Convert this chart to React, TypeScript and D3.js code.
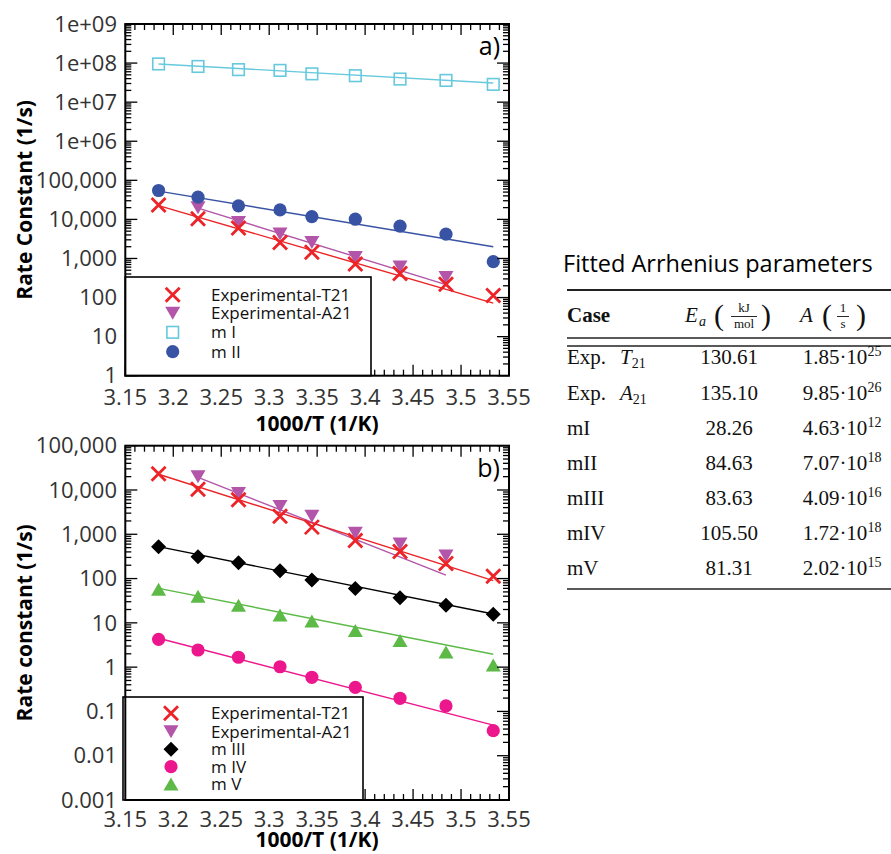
import React from 'react';
import * as d3 from 'd3';

// ---------- data ----------
const invT = [3.1847, 3.2258, 3.268, 3.3113, 3.3445, 3.3898, 3.4364, 3.4843, 3.5336];
const invTA21 = [3.2258, 3.268, 3.3113, 3.3445, 3.3898, 3.4364, 3.4843];

const kExpT21 = [23300, 10400, 6000, 2550, 1450, 720, 410, 218, 113];
const kExpA21 = [20000, 8300, 4250, 2550, 1060, 605, 325];
const kMI = [9.5e7, 8.2e7, 6.8e7, 6.5e7, 5.3e7, 4.75e7, 3.9e7, 3.6e7, 2.85e7];
const kMII = [54800, 37100, 22200, 17500, 11800, 10100, 6700, 4180, 830];
const kMIII = [525, 312, 228, 151, 93, 60, 37, 25, 15.6];
const kMIV = [4.25, 2.44, 1.67, 1.02, 0.59, 0.35, 0.198, 0.133, 0.0367];
const kMV = [57, 40, 25, 15, 11, 6.7, 4.0, 2.2, 1.12];

// fitted lines (end points)
const fitXFull = [3.1847, 3.5336];
const fitXA21 = [3.2258, 3.4843];
const fitA_T21 = [22600, 72];
const fitA_A21 = [19400, 215];
const fitA_MI = [9.5e7, 3.1e7];
const fitA_MII = [53000, 2000];
const fitB_T21 = [22700, 90];
const fitB_A21 = [19300, 120];
const fitB_MIII = [525, 15.8];
const fitB_MIV = [4.5, 0.049];
const fitB_MV = [60, 1.95];

const xTickValues = [3.15, 3.2, 3.25, 3.3, 3.35, 3.4, 3.45, 3.5, 3.55];
const xTickLabels = ['3.15', '3.2', '3.25', '3.3', '3.35', '3.4', '3.45', '3.5', '3.55'];
const yTicksA = [1, 10, 100, 1e3, 1e4, 1e5, 1e6, 1e7, 1e8, 1e9];
const yLabelsA = ['1', '10', '100', '1,000', '10,000', '100,000', '1e+06', '1e+07', '1e+08', '1e+09'];
const yTicksB = [1e-3, 1e-2, 0.1, 1, 10, 100, 1e3, 1e4, 1e5];
const yLabelsB = ['0.001', '0.01', '0.1', '1', '10', '100', '1,000', '10,000', '100,000'];

const legendA = ['Experimental-T21', 'Experimental-A21', 'm I', 'm II'];
const legendB = ['Experimental-T21', 'Experimental-A21', 'm III', 'm IV', 'm V'];

const tableCases = ['Exp.', 'Exp.', 'mI', 'mII', 'mIII', 'mIV', 'mV'];
const tableCaseVar = ['T', 'A', '', '', '', '', ''];
const tableEa = ['130.61', '135.10', '28.26', '84.63', '83.63', '105.50', '81.31'];
const tableAMant = ['1.85', '9.85', '4.63', '7.07', '4.09', '1.72', '2.02'];
const tableAExp = ['25', '26', '12', '18', '16', '18', '15'];

// ---------- styles ----------
const C = {
  red: '#ec2327',
  purple: '#b355a8',
  cyan: '#67c9dd',
  blue: '#3953a4',
  black: '#000000',
  pink: '#ec178c',
  green: '#5dba47',
};
const SANS = '"Open Sans", "Noto Sans", sans-serif';
const SERIF = '"Liberation Serif", "DejaVu Serif", serif';

type MType = 'x' | 'tdown' | 'square' | 'circle' | 'diamond' | 'tup';

function Marker({ t, x, y, c }: { t: MType; x: number; y: number; c: string }) {
  switch (t) {
    case 'x': {
      const s = 7;
      return (
        <path d={`M${x - s},${y - s}L${x + s},${y + s}M${x - s},${y + s}L${x + s},${y - s}`} stroke={c} strokeWidth={2.8} fill="none" />
      );
    }
    case 'tdown':
      return <path d={`M${x - 7.5},${y - 6.5}L${x + 7.5},${y - 6.5}L${x},${y + 6.5}Z`} fill={c} />;
    case 'tup':
      return <path d={`M${x - 7.5},${y + 6.5}L${x + 7.5},${y + 6.5}L${x},${y - 6.5}Z`} fill={c} />;
    case 'square':
      return <rect x={x - 5.8} y={y - 5.8} width={11.6} height={11.6} fill="none" stroke={c} strokeWidth={1.6} />;
    case 'circle':
      return <circle cx={x} cy={y} r={6.6} fill={c} />;
    case 'diamond':
      return <path d={`M${x},${y - 7.5}L${x + 7.5},${y}L${x},${y + 7.5}L${x - 7.5},${y}Z`} fill={c} />;
  }
  return null;
}

type Series = { xs: number[]; ys: number[]; t: MType; c: string; fitX: number[]; fitY: number[] };

function Panel(props: {
  top: number; bottom: number; domain: [number, number];
  yTicks: number[]; yLabels: string[]; yTitle: string; tag: string;
  series: Series[]; legendNames: string[]; legendOrder: number[];
  legendBox: [number, number, number, number]; legendRowY: number[]; legendMarkerX: number;
  xTitleY: number; xLabelY: number;
}) {
  const left = 125.3, right = 509;
  const x = d3.scaleLinear().domain([3.15, 3.55]).range([left, right]);
  const y = d3.scaleLog().domain(props.domain).range([props.bottom, props.top]);
  const line = d3.line<[number, number]>().x(d => x(d[0])).y(d => y(d[1]));
  const majX = 11, minX = 6, majY = 12, minY = 6;
  const xMinor = d3.range(315, 356).map(i => i / 100);
  const lo = Math.round(Math.log10(props.domain[0]));
  const hi = Math.round(Math.log10(props.domain[1]));
  const yMinor: number[] = [];
  for (let e = lo; e < hi; e++) for (let k = 2; k <= 9; k++) yMinor.push(k * Math.pow(10, e));
  const [lx0, ly0, lx1, ly1] = props.legendBox;
  const midY = (props.top + props.bottom) / 2;
  return (
    <g>
      {/* fits */}
      {props.series.map((s, i) => (
        <path key={'f' + i} d={line(s.fitX.map((v, j) => [v, s.fitY[j]] as [number, number])) || ''} stroke={s.c} strokeWidth={1.4} fill="none" />
      ))}
      {/* markers */}
      {props.series.map((s, i) => (
        <g key={'m' + i}>
          {s.xs.map((v, j) => <Marker key={j} t={s.t} x={x(v)} y={y(s.ys[j])} c={s.c} />)}
        </g>
      ))}
      {/* ticks */}
      <g stroke="#000" strokeWidth={1.3}>
        {xMinor.map((v, i) => {
          const major = Math.abs(v * 20 - Math.round(v * 20)) < 1e-6;
          const L = major ? majX : minX;
          return (
            <g key={'xt' + i}>
              <line x1={x(v)} x2={x(v)} y1={props.bottom} y2={props.bottom - L} />
              <line x1={x(v)} x2={x(v)} y1={props.top} y2={props.top + L} />
            </g>
          );
        })}
        {props.yTicks.map((v, i) => (
          <g key={'yt' + i}>
            <line x1={left} x2={left + majY} y1={y(v)} y2={y(v)} />
            <line x1={right} x2={right - majY} y1={y(v)} y2={y(v)} />
          </g>
        ))}
        {yMinor.map((v, i) => (
          <g key={'ym' + i}>
            <line x1={left} x2={left + minY} y1={y(v)} y2={y(v)} />
            <line x1={right} x2={right - minY} y1={y(v)} y2={y(v)} />
          </g>
        ))}
      </g>
      {/* legend */}
      <rect x={lx0} y={ly0} width={lx1 - lx0} height={ly1 - ly0} fill="#fff" stroke="#000" strokeWidth={1.6} />
      {props.legendOrder.map((si, i) => (
        <g key={'lg' + i}>
          <Marker t={props.series[si].t} x={props.legendMarkerX} y={props.legendRowY[i]} c={props.series[si].c} />
          <text x={211} y={props.legendRowY[i]} dy="0.35em" fontFamily={SANS} fontSize={17} fill="#111">{props.legendNames[i]}</text>
        </g>
      ))}
      {/* frame */}
      <rect x={left} y={props.top} width={right - left} height={props.bottom - props.top} fill="none" stroke="#000" strokeWidth={2} />
      {/* tick labels */}
      {xTickValues.map((v, i) => (
        <text key={'xl' + i} x={x(v)} y={props.xLabelY} dy="0.35em" textAnchor="middle" fontFamily={SANS} fontSize={22} fill="#333">{xTickLabels[i]}</text>
      ))}
      {props.yTicks.map((v, i) => (
        <text key={'yl' + i} x={117} y={y(v)} dy="0.35em" textAnchor="end" fontFamily={SANS} fontSize={22} fill="#333">{props.yLabels[i]}</text>
      ))}
      <text x={317} y={props.xTitleY} dy="0.35em" textAnchor="middle" fontFamily={SANS} fontSize={21} fontWeight="bold" fill="#000">1000/T (1/K)</text>
      <text transform={`translate(25,${midY}) rotate(-90)`} dy="0.35em" textAnchor="middle" fontFamily={SANS} fontSize={21} fontWeight="bold" fill="#000">{props.yTitle}</text>
      <text x={500} y={props.top + 31} textAnchor="end" fontFamily={SANS} fontSize={25} fill="#000">{props.tag}</text>
    </g>
  );
}

function Table() {
  const rowBase = [364, 400, 435, 470, 505, 540, 575];
  const fs = 21;
  return (
    <g fontFamily={SERIF} fill="#111">
      <text x={563} y={272} fontFamily={SANS} fontSize={23.5} fill="#000">Fitted Arrhenius parameters</text>
      <line x1={567} x2={891} y1={290} y2={290} stroke="#222" strokeWidth={1.8} />
      {/* header */}
      <text x={567} y={322} fontSize={fs} fontWeight="bold">Case</text>
      <text x={685} y={322} fontSize={fs} fontStyle="italic">E</text>
      <text x={699} y={326} fontSize={14} fontStyle="italic">a</text>
      <text x={714} y={325} fontSize={30}>(</text>
      <text x={744} y={312} fontSize={13} textAnchor="middle">kJ</text>
      <line x1={731} x2={757} y1={316.5} y2={316.5} stroke="#111" strokeWidth={0.9} />
      <text x={744} y={328} fontSize={13} textAnchor="middle">mol</text>
      <text x={761} y={325} fontSize={30}>)</text>
      <text x={800} y={322} fontSize={fs} fontStyle="italic">A</text>
      <text x={822} y={325} fontSize={30}>(</text>
      <text x={843} y={312} fontSize={13} textAnchor="middle">1</text>
      <line x1={837} x2={849} y1={316.5} y2={316.5} stroke="#111" strokeWidth={0.9} />
      <text x={843} y={328} fontSize={13} textAnchor="middle">s</text>
      <text x={856} y={325} fontSize={30}>)</text>
      <line x1={567} x2={891} y1={338} y2={338} stroke="#222" strokeWidth={1.3} />
      <line x1={567} x2={891} y1={346} y2={346} stroke="#222" strokeWidth={1.3} />
      {tableCases.map((c, i) => (
        <g key={i}>
          <text x={567} y={rowBase[i]} fontSize={fs}>{c}</text>
          {tableCaseVar[i] ? (
            <text x={620} y={rowBase[i]} fontSize={fs}>
              <tspan fontStyle="italic">{tableCaseVar[i]}</tspan>
              <tspan fontSize={14} dy={4}>21</tspan>
            </text>
          ) : null}
          <text x={729} y={rowBase[i]} fontSize={fs} textAnchor="middle">{tableEa[i]}</text>
          <text x={842} y={rowBase[i]} fontSize={fs} textAnchor="middle">
            {tableAMant[i]}·10<tspan fontSize={14} dy={-8}>{tableAExp[i]}</tspan>
          </text>
        </g>
      ))}
      <line x1={567} x2={891} y1={589} y2={589} stroke="#222" strokeWidth={1.6} />
    </g>
  );
}

export default function App() {
  const seriesA: Series[] = [
    { xs: invTA21, ys: kExpA21, t: 'tdown', c: C.purple, fitX: fitXA21, fitY: fitA_A21 },
    { xs: invT, ys: kExpT21, t: 'x', c: C.red, fitX: fitXFull, fitY: fitA_T21 },
    { xs: invT, ys: kMI, t: 'square', c: C.cyan, fitX: fitXFull, fitY: fitA_MI },
    { xs: invT, ys: kMII, t: 'circle', c: C.blue, fitX: fitXFull, fitY: fitA_MII },
  ];
  const seriesB: Series[] = [
    { xs: invTA21, ys: kExpA21, t: 'tdown', c: C.purple, fitX: fitXA21, fitY: fitB_A21 },
    { xs: invT, ys: kExpT21, t: 'x', c: C.red, fitX: fitXFull, fitY: fitB_T21 },
    { xs: invT, ys: kMIII, t: 'diamond', c: C.black, fitX: fitXFull, fitY: fitB_MIII },
    { xs: invT, ys: kMIV, t: 'circle', c: C.pink, fitX: fitXFull, fitY: fitB_MIV },
    { xs: invT, ys: kMV, t: 'tup', c: C.green, fitX: fitXFull, fitY: fitB_MV },
  ];
  return (
    <svg width={891} height={854} style={{ position: 'absolute', left: 0, top: 0, background: '#fff' }}>
      <rect width={891} height={854} fill="#fff" />
      <Panel top={24} bottom={375.7} domain={[1, 1e9]} yTicks={yTicksA} yLabels={yLabelsA}
        yTitle="Rate Constant (1/s)" tag="a)" series={seriesA} legendNames={legendA} legendOrder={[1, 0, 2, 3]}
        legendBox={[125.3, 277, 371, 375.7]} legendRowY={[294.7, 313.3, 332.3, 351.7]} legendMarkerX={172.7}
        xTitleY={424} xLabelY={397.5} />
      <Panel top={445.7} bottom={800} domain={[1e-3, 1e5]} yTicks={yTicksB} yLabels={yLabelsB}
        yTitle="Rate constant (1/s)" tag="b)" series={seriesB} legendNames={legendB} legendOrder={[1, 0, 2, 3, 4]}
        legendBox={[123, 697, 363, 800]} legendRowY={[713.3, 731.7, 749.3, 766.7, 784]} legendMarkerX={171}
        xTitleY={840} xLabelY={819} />
      <Table />
    </svg>
  );
}
